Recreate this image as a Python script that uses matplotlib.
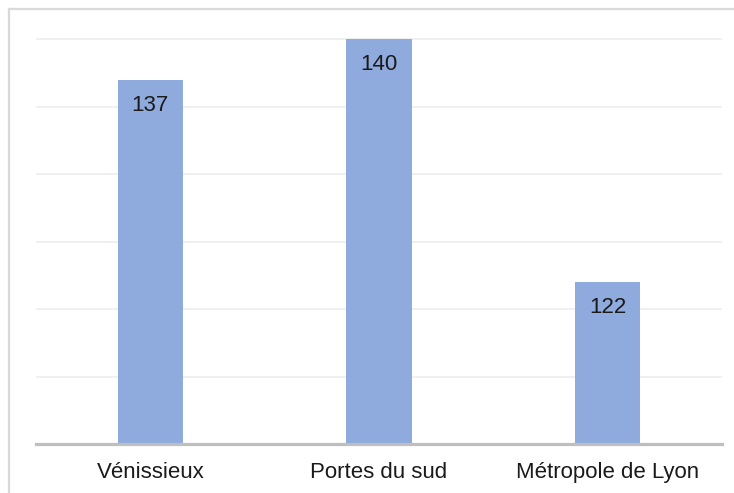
import matplotlib.pyplot as plt
from matplotlib.lines import Line2D

plt.rcParams['font.family'] = ['Liberation Sans', 'DejaVu Sans']

# data
categories = ["Vénissieux", "Portes du sud", "Métropole de Lyon"]
values = [137, 140, 122]
labels = ["137", "140", "122"]

bar_color = "#8FAADC"

fig = plt.figure(figsize=(7.34, 4.93), dpi=100)
ax = fig.add_axes([36 / 734, 1 - 444 / 493, 686 / 734, (444 - 36.5) / 493])

x = range(len(categories))
ax.bar(x, values, width=0.285, color=bar_color, zorder=2)

for xi, v, lab in zip(x, values, labels):
    ax.annotate(lab, (xi, v), xytext=(0, -18.5), textcoords="offset points",
                ha="center", va="center", fontsize=16, color="#1a1a1a", zorder=3)

ax.set_xlim(-0.5, 2.5)
ax.set_ylim(110, 140.2)
ax.set_yticks(range(110, 141, 5))
ax.yaxis.grid(True, color="#EDEDED", linewidth=1.2, zorder=0)
ax.set_axisbelow(True)
ax.tick_params(axis="y", left=False, labelleft=False)
ax.set_xticks(list(x))
ax.set_xticklabels(categories, fontsize=16, color="#1a1a1a")
ax.tick_params(axis="x", length=0, pad=13)

for side in ["top", "right", "left"]:
    ax.spines[side].set_visible(False)
ax.spines["bottom"].set_color("#BFBFBF")
ax.spines["bottom"].set_linewidth(2.3)
ax.spines["bottom"].set_zorder(4)

# outer chart frame, cropped at right and bottom
fig.add_artist(Line2D([8.5 / 734, 8.5 / 734], [0, 1 - 9 / 493],
                      transform=fig.transFigure, color="#D9D9D9", linewidth=1.6))
fig.add_artist(Line2D([8.5 / 734, 1], [1 - 9 / 493, 1 - 9 / 493],
                      transform=fig.transFigure, color="#D9D9D9", linewidth=1.6))

fig.savefig("out.png", dpi=100)
